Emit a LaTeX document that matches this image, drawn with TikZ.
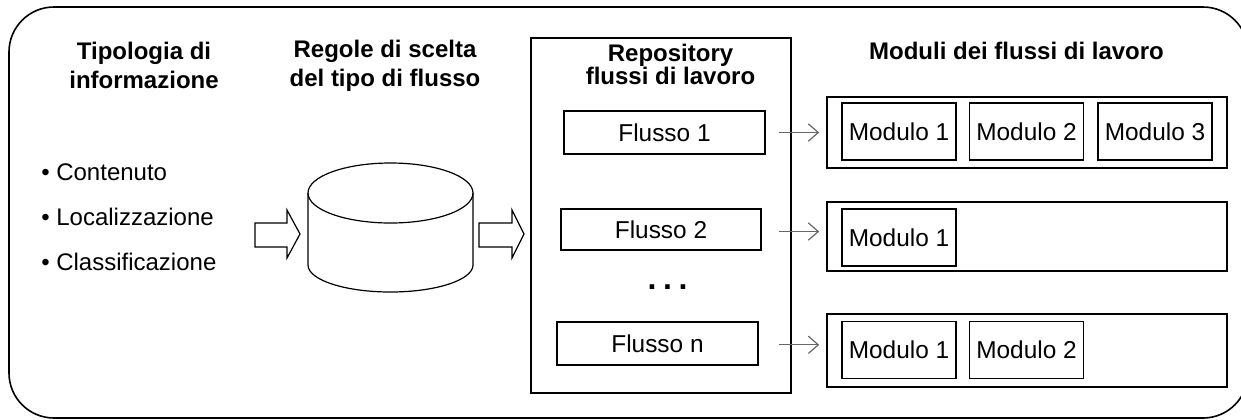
\documentclass[tikz,border=0pt]{standalone}
\usepackage{fontspec}
\setmainfont{Liberation Sans}
\usetikzlibrary{arrows.meta}
\begin{document}
\begin{tikzpicture}[x=0.75pt,y=-0.75pt,
  txt/.style={font=\fontsize{18}{21.75}\selectfont, inner sep=0pt},
  head/.style={font=\fontsize{18}{21.75}\selectfont\bfseries, inner sep=0pt, align=center},
  box/.style={draw=black, line width=1.2pt, inner sep=0pt, font=\fontsize{18.3}{21.75}\selectfont},
  garrow/.style={draw=black!60, line width=0.9pt, -{Straight Barb[length=7.5pt,width=13pt,line width=0.9pt]}},
  blockarrow/.style={draw=black, line width=0.9pt, fill=white},
]
\useasboundingbox (0,0) rectangle (1241,419);
\clip (0,0) rectangle (1241,419);
% outer frame
\draw[line width=1.2pt, rounded corners=33.75pt] (9,7) rectangle (1248,418);

% headings
\node[head] (h1) at (144,65) {Tipologia di\\informazione};
\node[head] (h2) at (385,66) {Regole di scelta\\del tipo di flusso};
\node[head, font=\fontsize{18}{16.5}\selectfont\bfseries] (h3) at (670.5,64.5) {Repository\\flussi di lavoro};
\node[head, anchor=base] (h4) at (1016.5,59.3) {Moduli dei flussi di lavoro};

% bullet list
\node[txt, anchor=base west] (b1) at (41,180) {• Contenuto};
\node[txt, anchor=base west] (b2) at (41,225) {• Localizzazione};
\node[txt, anchor=base west] (b3) at (41,270) {• Classificazione};

% block arrow 1
\draw[blockarrow] (255,223) -- (287,223) -- (287,210) -- (300,234) -- (287,258) -- (287,247) -- (255,247) -- cycle;

% cylinder
\coordinate (cyl) at (390.5,229);
\draw[line width=0.9pt] (308,193) -- (308,265) arc[start angle=180, end angle=0, x radius=82.5, y radius=27] -- (473,193);
\draw[line width=0.9pt] (390.5,193) ellipse[x radius=82.5, y radius=30];

% block arrow 2
\draw[blockarrow] (479,223) -- (512,223) -- (512,210) -- (524,234) -- (512,258) -- (512,247) -- (479,247) -- cycle;

% repository
\node[box, minimum width=195pt, minimum height=266.25pt] (rep) at (661,215.5) {};
\node[box, minimum width=150.75pt, minimum height=32.25pt] (f1) at (664.5,132.5) {Flusso 1};
\node[box, minimum width=150pt, minimum height=30.75pt] (f2) at (661,229.5) {Flusso 2};
\node[box, minimum width=150.75pt, minimum height=32.25pt] (fn) at (657.5,343.5) {Flusso n};
\node[inner sep=0pt, font=\fontsize{24}{28}\selectfont\bfseries] (dots) at (667.5,287) {.\hspace{5pt}.\hspace{5pt}.};

% module rows
\node[box, minimum width=300pt, minimum height=53.25pt] (r1) at (1027,132.5) {};
\node[box, minimum width=300pt, minimum height=51.75pt] (r2) at (1027,236.5) {};
\node[box, minimum width=300pt, minimum height=54.75pt] (r3) at (1027,350.5) {};

\node[box, minimum width=85.5pt, minimum height=42.75pt] (m11) at (899,131.5) {Modulo 1};
\node[box, minimum width=85.5pt, minimum height=42.75pt] (m12) at (1026.5,131.5) {Modulo 2};
\node[box, minimum width=85.5pt, minimum height=42.75pt] (m13) at (1155,131.5) {Modulo 3};
\node[box, minimum width=85.5pt, minimum height=42.75pt] (m21) at (899,237.5) {Modulo 1};
\node[box, minimum width=85.5pt, minimum height=42.75pt] (m31) at (899,350) {Modulo 1};
\node[box, minimum width=85.5pt, minimum height=42.75pt] (m32) at (1026.5,350) {Modulo 2};

% arrows
\draw[garrow, shorten >=5.25pt] ([xshift=-9.75pt]f1.east -| rep.east) -- (f1.east -| r1.west);
\draw[garrow, shorten >=5.25pt] ([xshift=-9.75pt,yshift=-1.5pt]f2.east -| rep.east) -- ([yshift=-1.5pt]f2.east -| r2.west);
\draw[garrow, shorten >=5.25pt] ([xshift=-9.75pt,yshift=-1pt]fn.east -| rep.east) -- ([yshift=-1pt]fn.east -| r3.west);
\end{tikzpicture}
\end{document}
